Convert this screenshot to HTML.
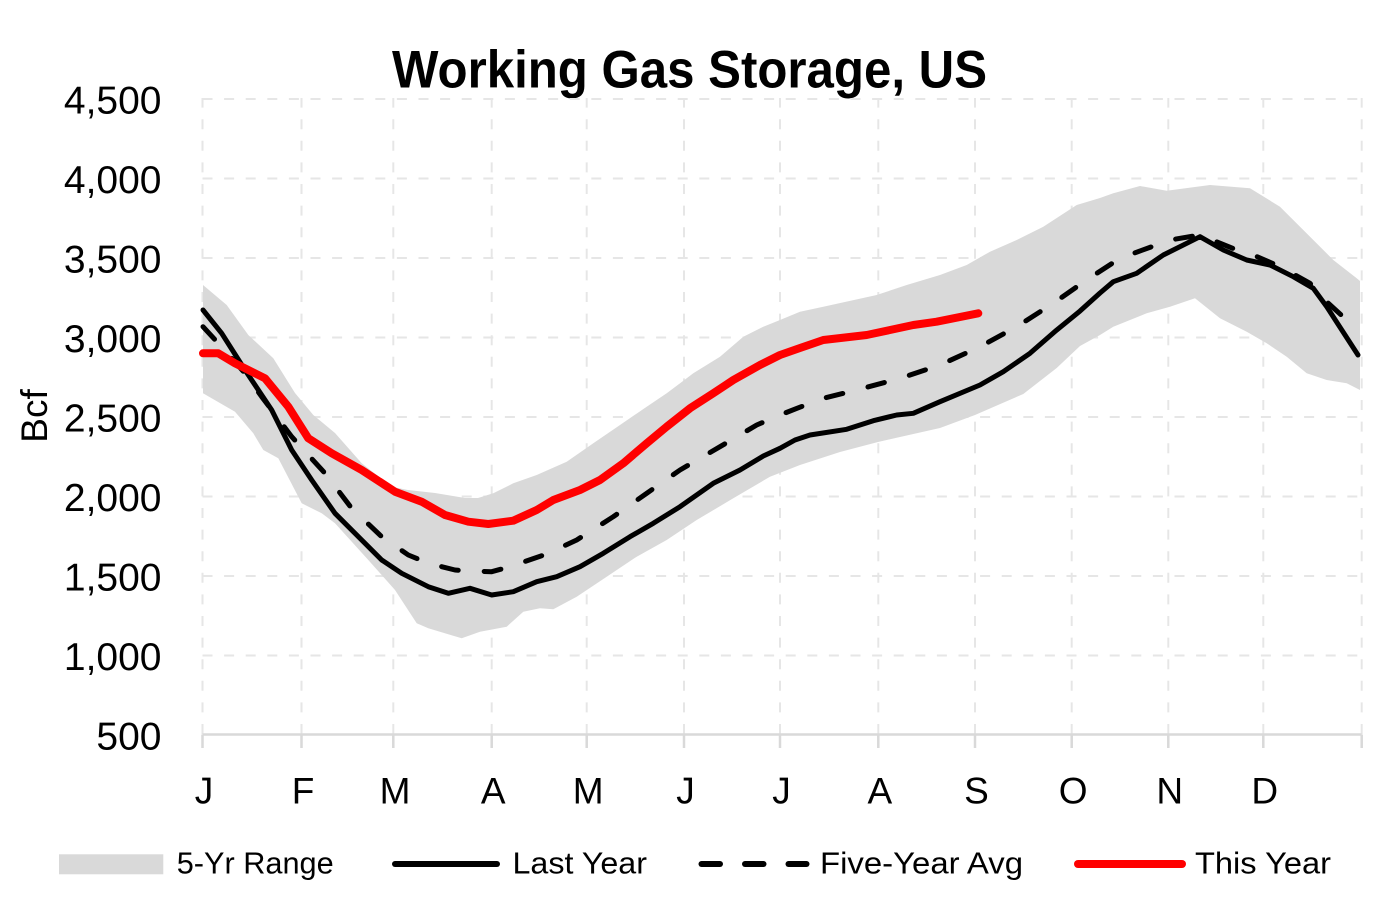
<!DOCTYPE html>
<html>
<head>
<meta charset="utf-8">
<style>
html,body{margin:0;padding:0;background:#fff;}
svg{display:block;}
text{font-family:"Liberation Sans",Arial,sans-serif;fill:#000;}
</style>
</head>
<body>
<svg width="1376" height="900" viewBox="0 0 1376 900" xmlns="http://www.w3.org/2000/svg">
<rect x="0" y="0" width="1376" height="900" fill="#fff"/>

<!-- Title -->
<text x="392" y="87.5" font-size="53" font-weight="bold" textLength="595" lengthAdjust="spacingAndGlyphs">Working Gas Storage, US</text>

<!-- Gridlines horizontal -->
<g stroke="#e6e6e6" stroke-width="2" stroke-dasharray="10 11.6" fill="none">
<line x1="202.5" y1="99" x2="1361.7" y2="99"/>
<line x1="202.5" y1="178.5" x2="1361.7" y2="178.5"/>
<line x1="202.5" y1="258" x2="1361.7" y2="258"/>
<line x1="202.5" y1="337.5" x2="1361.7" y2="337.5"/>
<line x1="202.5" y1="417" x2="1361.7" y2="417"/>
<line x1="202.5" y1="496.5" x2="1361.7" y2="496.5"/>
<line x1="202.5" y1="576" x2="1361.7" y2="576"/>
<line x1="202.5" y1="655.5" x2="1361.7" y2="655.5"/>
</g>
<!-- Gridlines vertical -->
<g stroke="#e6e6e6" stroke-width="2" stroke-dasharray="10 11.6" fill="none">
<line x1="202.5" y1="734" x2="202.5" y2="98"/>
<line x1="301.5" y1="734" x2="301.5" y2="98"/>
<line x1="393.3" y1="734" x2="393.3" y2="98"/>
<line x1="491.7" y1="734" x2="491.7" y2="98"/>
<line x1="586.7" y1="734" x2="586.7" y2="98"/>
<line x1="684" y1="734" x2="684" y2="98"/>
<line x1="780" y1="734" x2="780" y2="98"/>
<line x1="878.3" y1="734" x2="878.3" y2="98"/>
<line x1="975" y1="734" x2="975" y2="98"/>
<line x1="1071.7" y1="734" x2="1071.7" y2="98"/>
<line x1="1168.3" y1="734" x2="1168.3" y2="98"/>
<line x1="1263.3" y1="734" x2="1263.3" y2="98"/>
<line x1="1361.7" y1="734" x2="1361.7" y2="98"/>
</g>

<!-- 5-Yr Range band -->
<polygon fill="#d9d9d9" points="
203,285 226.7,305 248.3,335 273.3,358.3 295,393 313.3,415 335,433 361.7,463.3 391.7,486.7 408,490 435,493 465,498 478,498 493.3,493.3 513.3,483.3 536.7,475 566.7,461.7 593.3,443.3 620,425 646.7,406.7 666.7,393.3 693.3,373.3 720,356.7 743.3,336.7 763.3,326.7 780,320 800,311.7 823.3,306.7 876.7,295 906.7,285 940,275 966.7,265 990,251.7 1016.7,240 1043.3,226.7 1076.7,205 1100,198 1113.3,193.3 1140,186 1166.7,190.7 1210,185 1250,188.3 1280,206.7 1313.3,240 1333.3,260 1356.7,278.3 1360,281
1360,390 1346.7,383.3 1326.7,380 1306.7,373.3 1286.7,356.7 1266.7,343.3 1246.7,331.7 1220,318.3 1195,298.3 1170,306.7 1146.7,313.3 1113.3,326.7 1100,335 1080,346 1056.7,368 1023.3,394 975,415 940,428 900,437 878,442 840,452 800,465 770,476.7 733.3,498.3 696.7,520 666.7,540 636.7,556.7 606.7,576.7 576.7,596.7 553.3,609.3 540,608.3 523.3,611.7 506.7,626.7 480,631.7 461.7,638.3 428.3,628.3 416.7,623.3 395,590 368.3,560 335,523.3 321.7,513.3 301.7,503.3 278.3,458.3 263.3,450 253.3,433.3 235,411.7 203,393.3"/>

<!-- Axis -->
<g stroke="#d9d9d9" stroke-width="2.5" fill="none">
<line x1="202.5" y1="734.5" x2="1361.7" y2="734.5"/>
<line x1="202.5" y1="734.5" x2="202.5" y2="748"/>
<line x1="301.5" y1="734.5" x2="301.5" y2="748"/>
<line x1="393.3" y1="734.5" x2="393.3" y2="748"/>
<line x1="491.7" y1="734.5" x2="491.7" y2="748"/>
<line x1="586.7" y1="734.5" x2="586.7" y2="748"/>
<line x1="684" y1="734.5" x2="684" y2="748"/>
<line x1="780" y1="734.5" x2="780" y2="748"/>
<line x1="878.3" y1="734.5" x2="878.3" y2="748"/>
<line x1="975" y1="734.5" x2="975" y2="748"/>
<line x1="1071.7" y1="734.5" x2="1071.7" y2="748"/>
<line x1="1168.3" y1="734.5" x2="1168.3" y2="748"/>
<line x1="1263.3" y1="734.5" x2="1263.3" y2="748"/>
<line x1="1361.7" y1="734.5" x2="1361.7" y2="748"/>
</g>

<!-- Last Year -->
<polyline fill="none" stroke="#000" stroke-width="5" stroke-linejoin="round" stroke-linecap="round" points="
203,310 221.7,333.3 245,370 271.7,410 291.7,450 311.7,480 335,513.3 361.7,540 381.7,560 401.7,573.3 428.3,586.7 448.3,593.3 470,588.3 491.7,595 513.3,591.7 536.7,581.7 556.7,576.7 580,566.7 603.3,553.3 630,536.7 653.3,523.3 680,506.7 713.3,483.3 740,470 763.3,456 780,448.3 795,440 810,435 846.7,429.3 873.3,420.7 896.7,415 913.3,413.3 940,401.7 980,385 1003.3,371.7 1030,353.3 1056.7,330 1080,311 1100,293 1113.3,281.7 1136.7,273.3 1163.3,255 1200,236.7 1223.3,250 1246.7,260 1270,265 1293.3,276.7 1313.3,288.3 1326.7,306.7 1358,355"/>

<!-- Five-Year Avg -->
<polyline fill="none" stroke="#000" stroke-width="5" stroke-linejoin="round" stroke-linecap="round" stroke-dasharray="17 26" points="
203,326.7 218.3,343.3 245,373.3 261.7,396.7 291.7,436.7 325,473.3 351.7,508.3 381.7,536.7 408.3,555 428.3,563.3 455,570 470,571 491.7,571.7 510,566.7 546.7,554 576.7,540 613.3,516.7 646.7,493.3 680,470 720,446.7 756.7,425 780,415 797,408.3 823.3,398.3 856.7,390 900,378.3 940,365 980,346.7 1016.7,326.7 1053.3,303.3 1085,281 1120,258.3 1170,240 1200,235 1236.7,250 1253.3,255 1280,266.7 1310,283.3 1328,303 1346.7,320 1360,328.3"/>

<!-- This Year -->
<polyline fill="none" stroke="#ff0000" stroke-width="8" stroke-linejoin="round" stroke-linecap="round" points="
203,353.3 218.3,353.3 235,363.3 265,378.3 288.3,406.7 308.3,438.3 331.7,453.3 361.7,470 395,491.7 421.7,501.7 445,515 468.3,521.7 488.3,524 513.3,520.7 536.7,510 553.3,500 580,490 600,480 623.3,463.3 646.7,443.3 666.7,426.7 690,408.3 713.3,393.3 733.3,380 760,365 780,355 800,348 823.3,340 866.7,335 890,330 913.3,325 936.7,321.7 978.3,313.3"/>

<!-- Y tick labels -->
<g font-size="39" text-anchor="end">
<text x="161.5" y="113.3">4,500</text>
<text x="161.5" y="192.8">4,000</text>
<text x="161.5" y="272.3">3,500</text>
<text x="161.5" y="351.8">3,000</text>
<text x="161.5" y="431.3">2,500</text>
<text x="161.5" y="510.8">2,000</text>
<text x="161.5" y="590.3">1,500</text>
<text x="161.5" y="669.8">1,000</text>
<text x="161.5" y="749.3">500</text>
</g>

<!-- Y axis title -->
<text transform="translate(47,416) rotate(-90)" font-size="37" text-anchor="middle">Bcf</text>

<!-- Month labels -->
<g font-size="37" text-anchor="middle">
<text x="204" y="803.3">J</text>
<text x="303" y="803.3">F</text>
<text x="395" y="803.3">M</text>
<text x="493.2" y="803.3">A</text>
<text x="588.2" y="803.3">M</text>
<text x="685.5" y="803.3">J</text>
<text x="781.5" y="803.3">J</text>
<text x="879.8" y="803.3">A</text>
<text x="976.5" y="803.3">S</text>
<text x="1073.2" y="803.3">O</text>
<text x="1169.8" y="803.3">N</text>
<text x="1264.8" y="803.3">D</text>
</g>

<!-- Legend -->
<rect x="59" y="854.3" width="104.3" height="20" fill="#d9d9d9"/>
<text x="176.7" y="873.5" font-size="31" textLength="157" lengthAdjust="spacingAndGlyphs">5-Yr Range</text>

<line x1="395" y1="864" x2="497" y2="864" stroke="#000" stroke-width="6" stroke-linecap="round"/>
<text x="512.5" y="873.5" font-size="31" textLength="134.5" lengthAdjust="spacingAndGlyphs">Last Year</text>

<g stroke="#000" stroke-width="6" stroke-linecap="round">
<line x1="701.5" y1="864" x2="720" y2="864"/>
<line x1="745" y1="864" x2="763.5" y2="864"/>
<line x1="788.5" y1="864" x2="806.5" y2="864"/>
</g>
<text x="820" y="873.5" font-size="31" textLength="203" lengthAdjust="spacingAndGlyphs">Five-Year Avg</text>

<line x1="1078" y1="864" x2="1182" y2="864" stroke="#ff0000" stroke-width="8" stroke-linecap="round"/>
<text x="1195" y="873.5" font-size="31" textLength="136" lengthAdjust="spacingAndGlyphs">This Year</text>
</svg>
</body>
</html>
